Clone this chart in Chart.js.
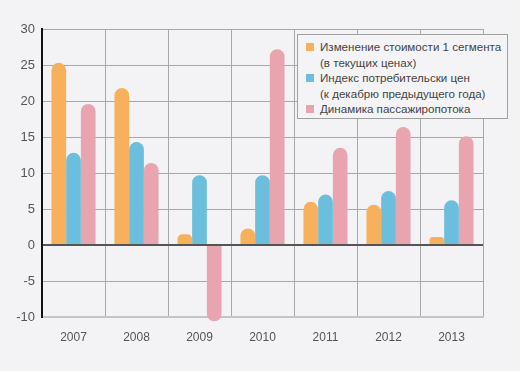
<!DOCTYPE html>
<html>
<head>
<meta charset="utf-8">
<script src="https://cdn.jsdelivr.net/npm/chart.js@4"></script>
<style>
    body { margin:0; background:#f3f3f5; }
    #wrap { position:relative; width:520px; height:371px; background:#f3f3f5; }
    #legend { position:absolute; left:297px; top:34px; width:211px; height:85px; border:1px solid #a0a0a0; background:#f4f4f6;
              font-family:'Liberation Sans', Arial, sans-serif; font-size:11.6px; color:#444; line-height:15.6px; padding-top:4px; box-sizing:border-box; white-space:nowrap; }
    .item { position:relative; padding-left:22px; }
    .box { position:absolute; left:8px; top:4px; width:8px; height:8px; }
</style>
</head>
<body>
<div id="wrap">
    <canvas id="c" width="520" height="371"></canvas>
    <div id="legend"></div>
</div>
<script>
var years = ['2007','2008','2009','2010','2011','2012','2013'];
var segmentCost = [25.3, 21.8, 1.5, 2.3, 6.0, 5.6, 1.1];
var cpi = [12.8, 14.3, 9.7, 9.7, 7.0, 7.5, 6.2];
var passengers = [19.6, 11.4, -10.6, 27.2, 13.5, 16.4, 15.1];
var seriesNames = [
    ['Изменение стоимости 1 сегмента', '(в текущих ценах)'],
    ['Индекс потребительски цен', '(к декабрю предыдущего года)'],
    ['Динамика пассажиропотока']
];
var colors = ['#f7b15c', '#6bbfdc', '#e8a5af'];
var yTicks = [-10, -5, 0, 5, 10, 15, 20, 25, 30];

var font = { family: "'Liberation Sans', Arial, sans-serif", size: 12 };

var datasets = [segmentCost, cpi, passengers].map(function(d, i) {
    return {
        label: seriesNames[i].join(' '),
        data: d,
        backgroundColor: colors[i],
        borderRadius: 12,
        barPercentage: 1,
        categoryPercentage: 0.70,
        clip: false
    };
});

var chart = new Chart(document.getElementById('c'), {
    type: 'bar',
    data: { labels: years, datasets: datasets },
    options: {
        responsive: false,
        animation: false,
        layout: { padding: { top: 29, right: 37, left: 0, bottom: 0 } },
        plugins: { legend: { display: false }, tooltip: { enabled: false } },
        scales: {
            x: {
                grid: { color: '#a8a8a8', lineWidth: 1, drawTicks: false, offset: true },
                border: { color: '#c4c4c4', width: 2 },
                ticks: { color: '#555', font: font, padding: 13 },
                afterFit: function(s) { s.height = 54; }
            },
            y: {
                min: -10, max: 30,
                afterBuildTicks: function(s) { s.ticks = yTicks.map(function(v) { return { value: v }; }); },
                grid: {
                    drawTicks: false,
                    color: function(ctx) {
                        if (ctx.tick.value === 0) return '#555';
                        if (ctx.tick.value === -10) return '#c8c8c8';
                        return '#a8a8a8';
                    },
                    lineWidth: function(ctx) { return ctx.tick.value === 0 ? 2 : 1; }
                },
                border: { color: '#111', width: 2 },
                ticks: { color: '#555', font: { family: font.family, size: 13 }, padding: 7 },
                afterFit: function(s) { s.width = 42; }
            }
        }
    }
});

var legend = document.getElementById('legend');
seriesNames.forEach(function(lines, i) {
    var d = document.createElement('div');
    d.className = 'item';
    d.innerHTML = '<span class="box" style="background:' + colors[i] + '"></span>' + lines.join('<br>');
    legend.appendChild(d);
});
</script>
</body>
</html>
